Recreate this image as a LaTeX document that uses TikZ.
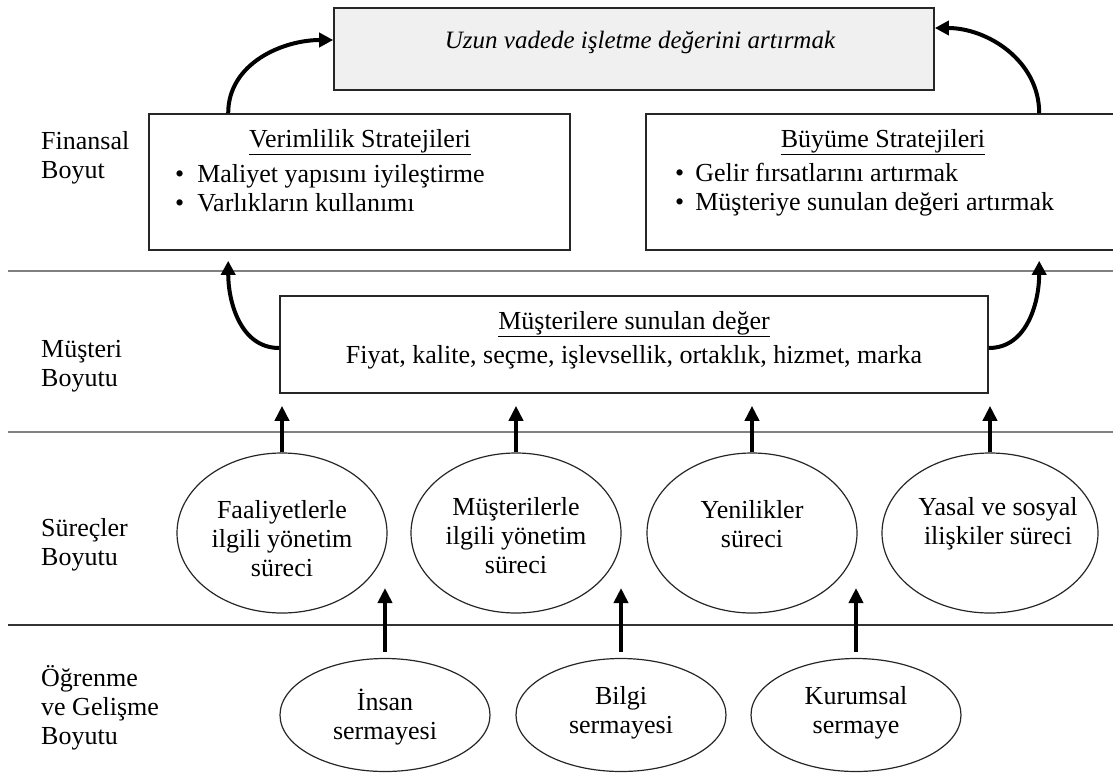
\documentclass[tikz,border=0pt]{standalone}
\usepackage{fontspec}
\setmainfont{Liberation Serif}
\usetikzlibrary{arrows.meta,shapes.geometric}
\begin{document}
\begin{tikzpicture}[x=1pt,y=-1pt,
  txt/.style={font=\fontsize{26}{29}\selectfont, inner sep=0pt},
  lbl/.style={txt, anchor=west, align=left},
  frame/.style={draw=black!85, line width=1.6pt, inner sep=0pt, rectangle},
  oval/.style={ellipse, draw=black!85, line width=1.2pt, inner sep=0pt,
    minimum width=210pt, minimum height=160pt},
  smalloval/.style={oval, minimum height=113pt},
  uparrow/.style={line width=4.5pt, -{Triangle[width=14pt,length=15pt]}},
  bendarrow/.style={line width=4pt, -{Triangle[width=14pt,length=14pt]}},
  sepline/.style={draw=black!50, line width=2.6pt},
  darkline/.style={draw=black!80, line width=1.3pt},
]
\useasboundingbox (0,0) rectangle (1113,774);
\clip (0,0) rectangle (1113,774);

% layer separators
\draw[sepline] (8,271) -- (1113,271);
\draw[sepline] (8,432) -- (1113,432);
\draw[darkline] (8,625) -- (1113,625);

% layer names
\node[lbl] (lfin) at (41,158) {Finansal\\Boyut};
\node[lbl] (lmus) at (41,366) {Müşteri\\Boyutu};
\node[lbl] (lsur) at (41,545) {Süreçler\\Boyutu};
\node[lbl] (logr) at (41,708) {Öğrenme\\ve Gelişme\\Boyutu};

% goal box
\node[frame, fill=black!6, minimum width=600pt, minimum height=82pt] (tbox) at (634,49) {};
\node[inner sep=0pt, font=\fontsize{25}{29}\selectfont\itshape] (ttext) at (640,42)
  {Uzun vadede işletme değerini artırmak};

% financial strategies
\node[frame, minimum width=421pt, minimum height=136pt] (lbox) at (359.5,182) {};
\node[txt] (ltitle) at (360,142) {\underline{Verimlilik Stratejileri}};
\node[txt, anchor=west, align=left] (litems) at (175,188)
  {\textbullet\hspace{13pt}Maliyet yapısını iyileştirme\\
   \textbullet\hspace{13pt}Varlıkların kullanımı};

\node[frame, minimum width=474pt, minimum height=136pt] (rbox) at (883,182) {};
\node[txt] (rtitle) at (883,142) {\underline{Büyüme Stratejileri}};
\node[txt, anchor=west, align=left] (ritems) at (675,190)
  {\textbullet\hspace{11pt}Gelir fırsatlarını artırmak\\
   \textbullet\hspace{11pt}Müşteriye sunulan değeri artırmak};

% customer value
\node[frame, minimum width=708pt, minimum height=97pt] (mbox) at (634,344.5) {};
\node[txt] (mtitle) at (634,324) {\underline{Müşterilere sunulan değer}};
\node[txt] (mitems) at (634,357) {Fiyat, kalite, seçme, işlevsellik, ortaklık, hizmet, marka};

% internal processes
\node[oval] (e1) at (282,533) {};
\node[oval] (e2) at (516,533) {};
\node[oval] (e3) at (752,533) {};
\node[oval, minimum width=216pt] (e4) at (990,533) {};
\node[txt, align=center] (t1) at (282,539) {Faaliyetlerle\\ilgili yönetim\\süreci};
\node[txt, align=center] (t2) at (516,536) {Müşterilerle\\ilgili yönetim\\süreci};
\node[txt, align=center] (t3) at (752,524) {Yenilikler\\süreci};
\node[txt, align=center] (t4) at (998,524) {Yasal ve sosyal\\ilişkiler süreci};

% learning and growth
\node[smalloval] (e5) at (385,715) {};
\node[smalloval] (e6) at (621,715) {};
\node[smalloval] (e7) at (856,715) {};
\node[txt, align=center] (t5) at (385,717) {İnsan\\sermayesi};
\node[txt, align=center] (t6) at (621,713) {Bilgi\\sermayesi};
\node[txt, align=center] (t7) at (856,713) {Kurumsal\\sermaye};

% free ends of the lower arrows
\coordinate (p5) at (385,588);
\coordinate (p6) at (621,588);
\coordinate (p7) at (856,588);

% arrows between layers
\foreach \e in {e1,e2,e3,e4}
  \draw[uparrow, shorten >=12pt] (\e.north) -- (\e.north |- mbox.south);
\draw[uparrow, shorten <=6pt] (e5.north) -- (p5);
\draw[uparrow, shorten <=6pt] (e6.north) -- (p6);
\draw[uparrow, shorten <=6pt] (e7.north) -- (p7);

\draw[bendarrow] ([yshift=-3.5pt]mbox.west) to[out=180,in=-90]
  ([xshift=80pt,yshift=-10pt]lbox.south west);
\draw[bendarrow] ([yshift=-3.5pt]mbox.east) to[out=0,in=-90]
  ([xshift=394pt,yshift=-10pt]rbox.south west);
\draw[bendarrow] ([xshift=80pt]lbox.north west) to[out=90,in=180]
  ([yshift=9pt]tbox.west);
\draw[bendarrow] ([xshift=394pt]rbox.north west) to[out=90,in=0]
  ([yshift=21pt]tbox.east);
\end{tikzpicture}
\end{document}
